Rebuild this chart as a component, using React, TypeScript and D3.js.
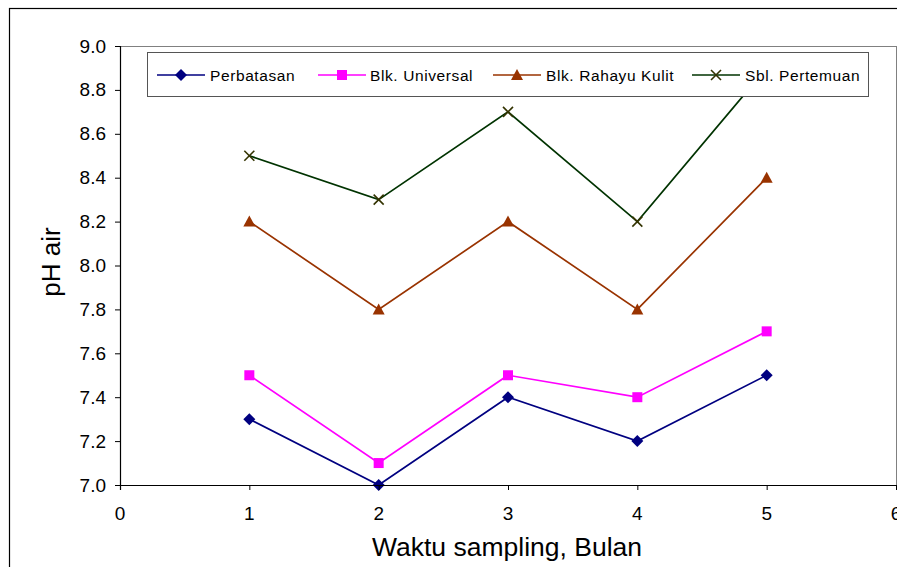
import React from "react";
import * as d3 from "d3";

const months = [1, 2, 3, 4, 5];
const perbatasan = [7.3, 7.0, 7.4, 7.2, 7.5];
const blkUniversal = [7.5, 7.1, 7.5, 7.4, 7.7];
const blkRahayuKulit = [8.2, 7.8, 8.2, 7.8, 8.4];
const sblPertemuan = [8.5, 8.3, 8.7, 8.2, 8.9];
const xTicks = [0, 1, 2, 3, 4, 5, 6];
const yTicks = [7.0, 7.2, 7.4, 7.6, 7.8, 8.0, 8.2, 8.4, 8.6, 8.8, 9.0];

type Marker = "diamond" | "square" | "triangle" | "x";
const series: { name: string; values: number[]; line: string; fill: string; marker: Marker }[] = [
  { name: "Perbatasan", values: perbatasan, line: "#000080", fill: "#000080", marker: "diamond" },
  { name: "Blk. Universal", values: blkUniversal, line: "#FF00FF", fill: "#FF00FF", marker: "square" },
  { name: "Blk. Rahayu Kulit", values: blkRahayuKulit, line: "#993300", fill: "#993300", marker: "triangle" },
  { name: "Sbl. Pertemuan", values: sblPertemuan, line: "#003300", fill: "#333300", marker: "x" },
];

const W = 897;
const H = 567;
const left = 120;
const right = 896;
const top = 46;
const bottom = 485;
const font = "'Liberation Sans', Arial, sans-serif";

function MarkerShape({ type, x, y, color }: { type: Marker; x: number; y: number; color: string }) {
  if (type === "diamond") {
    return <path d={`M${x},${y - 6}L${x + 6},${y}L${x},${y + 6}L${x - 6},${y}Z`} fill={color} />;
  }
  if (type === "square") {
    return <rect x={x - 5} y={y - 5} width={10} height={10} fill={color} />;
  }
  if (type === "triangle") {
    return <path d={`M${x},${y - 6}L${x + 6},${y + 5}L${x - 6},${y + 5}Z`} fill={color} />;
  }
  return (
    <g stroke={color} strokeWidth={1.6}>
      <line x1={x - 5} y1={y - 5} x2={x + 5} y2={y + 5} />
      <line x1={x - 5} y1={y + 5} x2={x + 5} y2={y - 5} />
    </g>
  );
}

export default function App() {
  const x = d3.scaleLinear().domain([0, 6]).range([left, right]);
  const y = d3.scaleLinear().domain([7.0, 9.0]).range([bottom, top]);
  const line = d3
    .line<number>()
    .x((_, i) => x(months[i]))
    .y((v) => y(v));

  const legendItems = [
    { lx: 157, tx: 210 },
    { lx: 318, tx: 370 },
    { lx: 493, tx: 546 },
    { lx: 692, tx: 745 },
  ];
  const legendY = 75;

  return (
    <svg width={W} height={H} style={{ position: "absolute", left: 0, top: 0, background: "#fff" }}>
      <rect x={0} y={0} width={W} height={H} fill="#fff" />
      {/* chart frame */}
      <rect x={9.5} y={8.5} width={W} height={H} fill="none" stroke="#000" strokeWidth={1.2} />
      {/* plot area border */}
      <line x1={left} y1={top + 0.5} x2={W} y2={top + 0.5} stroke="#808080" strokeWidth={1} />
      <line x1={right + 0.5} y1={top} x2={right + 0.5} y2={bottom} stroke="#808080" strokeWidth={1} />

      {/* series lines */}
      {series.map((s) => (
        <path key={s.name} d={line(s.values)!} fill="none" stroke={s.line} strokeWidth={1.7} />
      ))}
      {series.map((s) =>
        s.values.map((v, i) => (
          <MarkerShape key={s.name + i} type={s.marker} x={x(months[i])} y={y(v)} color={s.fill} />
        ))
      )}

      {/* axes */}
      <line x1={left + 0.5} y1={top} x2={left + 0.5} y2={bottom + 5} stroke="#000" strokeWidth={1.2} />
      <line x1={left - 5} y1={bottom + 0.5} x2={right + 1} y2={bottom + 0.5} stroke="#000" strokeWidth={1.2} />
      {yTicks.map((t) => (
        <g key={t}>
          <line x1={left - 5} x2={left} y1={y(t) + 0.5} y2={y(t) + 0.5} stroke="#000" />
          <text x={106} y={y(t) + 6.5} textAnchor="end" fontFamily={font} fontSize={19} fill="#000">
            {t.toFixed(1)}
          </text>
        </g>
      ))}
      {xTicks.map((t) => (
        <g key={t}>
          <line x1={x(t) + 0.5} x2={x(t) + 0.5} y1={bottom} y2={bottom + 5} stroke="#000" />
          <text x={x(t)} y={520} textAnchor="middle" fontFamily={font} fontSize={19} fill="#000">
            {t}
          </text>
        </g>
      ))}

      <text x={507} y={556} textAnchor="middle" fontFamily={font} fontSize={26.5} fill="#000">
        Waktu sampling, Bulan
      </text>
      <text
        transform={`translate(60,262) rotate(-90)`}
        textAnchor="middle"
        fontFamily={font}
        fontSize={26}
        fill="#000"
      >
        pH air
      </text>

      {/* legend */}
      <rect x={147.5} y={52.5} width={721} height={44} fill="#fff" stroke="#555" strokeWidth={1} />
      {series.map((s, i) => {
        const it = legendItems[i];
        return (
          <g key={s.name}>
            <line x1={it.lx} x2={it.lx + 48} y1={legendY} y2={legendY} stroke={s.line} strokeWidth={1.7} />
            <MarkerShape type={s.marker} x={it.lx + 24} y={legendY} color={s.fill} />
            <text
              x={it.tx}
              y={legendY + 5.5}
              fontFamily={font}
              fontSize={15.5}
              letterSpacing={0.6}
              fill="#000"
            >
              {s.name}
            </text>
          </g>
        );
      })}
    </svg>
  );
}
